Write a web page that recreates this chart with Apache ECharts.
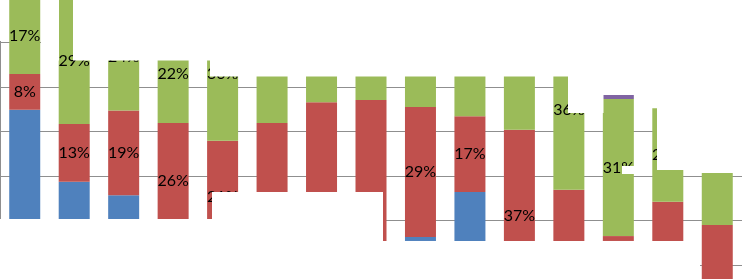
<!DOCTYPE html>
<html>
<head>
<meta charset="utf-8">
<script src="https://cdn.jsdelivr.net/npm/echarts@6.0.0/dist/echarts.min.js"></script>
<style>
html,body{margin:0;padding:0;background:#ffffff;overflow:hidden;width:742px;height:279px;position:relative}
#c{position:absolute;left:0;top:-10px;width:742px;height:330px}
</style>
</head>
<body>
<div id="c"></div>
<script>
// ---- data (percent values) ----
const categories = ['1','2','3','4','5','6','7','8','9','10','11','12','13','14','15'];
const baseline   = [0, 0, 0, 0, 0, 0, 0, 0, 0, 0, 0, 0, 0, 0, -10];
const blueVals   = [29.5, 13.3, 10.3, 0.5, 1.5, 0, 0, 0, 0.9, 11, 0, 0, 0, 0, 0];
const redVals    = [8, 13, 19, 26, 21, 26.5, 31.2, 31.7, 29.2, 17, 25, 11.5, 1.1, 8.8, 13.6];
const greenVals  = [17, 29, 24, 22, 30, 23, 25, 24, 25, 25, 25, 36, 30.8, 21, 11.7];
const purpleVals = [0, 0, 0, 0, 0, 0, 0, 0, 0, 0, 0, 0, 0.9, 0, 0];
const redLabels   = [8, 13, 19, 26, 21, null, null, null, 29, 17, 37, null, null, null, null];
const greenLabels = [17, 29, 24, 22, 30, null, null, null, null, null, null, 36, 31, 21, null];

// ---- styling ----
const COLORS = { blue:'#4F81BD', red:'#C0504D', green:'#9BBB59', purple:'#8064A2' };
const GRID_COLOR = '#8F8F8F';
const SHIFT = 10; // chart div is shifted up by this many px
const labelNudge = { red: { 4:[0,9], 10:[0,30] } };
// white patches that blank out parts of the reference picture (page coords)
const whitePatches = [
  [41, 0, 18, 60.5], [73, 0, 669, 60.5], [210, 60, 532, 16.5],
  [568, 76, 174, 18.5], [568, 94, 35.5, 19], [657, 94, 85, 76],
  [622, 166, 12, 8], [0, 219, 383, 70], [212, 192, 171, 28],
  [383, 242, 317, 47], [0, -10, 3, 51]
];

function seg(name, values, color, labels, nudges) {
  return {
    name: name, type: 'bar', stack: 'total', stackStrategy: 'all',
    barWidth: 31, silent: true,
    itemStyle: { color: color },
    label: { show: false, position: 'inside', color: '#000', fontFamily: 'Lato', fontSize: 16 },
    data: values.map(function (v, i) {
      const item = { value: v };
      if (labels && labels[i] != null) {
        item.label = { show: true, formatter: labels[i] + '%', offset: (nudges && nudges[i]) || [0, 0] };
      }
      return item;
    })
  };
}

const chart = echarts.init(document.getElementById('c'), null, { renderer: 'canvas' });
chart.setOption({
  animation: false,
  grid: { left: 0, top: 8, width: 742, height: 311.5, containLabel: false, outerBoundsMode: 'none' },
  xAxis: {
    type: 'category', data: categories,
    axisLine: { show: false }, axisTick: { show: false }, axisLabel: { show: false }
  },
  yAxis: {
    type: 'value', min: -15.4, max: 54.6, interval: 10,
    axisLine: { show: true, lineStyle: { color: GRID_COLOR, width: 1 } },
    axisTick: { show: false }, axisLabel: { show: false },
    splitLine: { show: true, lineStyle: { color: GRID_COLOR, width: 1 } }
  },
  series: [
    seg('base', baseline, 'rgba(0,0,0,0)'),
    seg('blue', blueVals, COLORS.blue),
    seg('red', redVals, COLORS.red, redLabels, labelNudge.red),
    seg('green', greenVals, COLORS.green, greenLabels),
    seg('purple', purpleVals, COLORS.purple)
  ],
  graphic: whitePatches.map(function (r) {
    return { type: 'rect', silent: true, z: 100,
      shape: { x: r[0], y: r[1] + SHIFT, width: r[2], height: r[3] },
      style: { fill: '#ffffff' } };
  })
});
</script>
</body>
</html>
